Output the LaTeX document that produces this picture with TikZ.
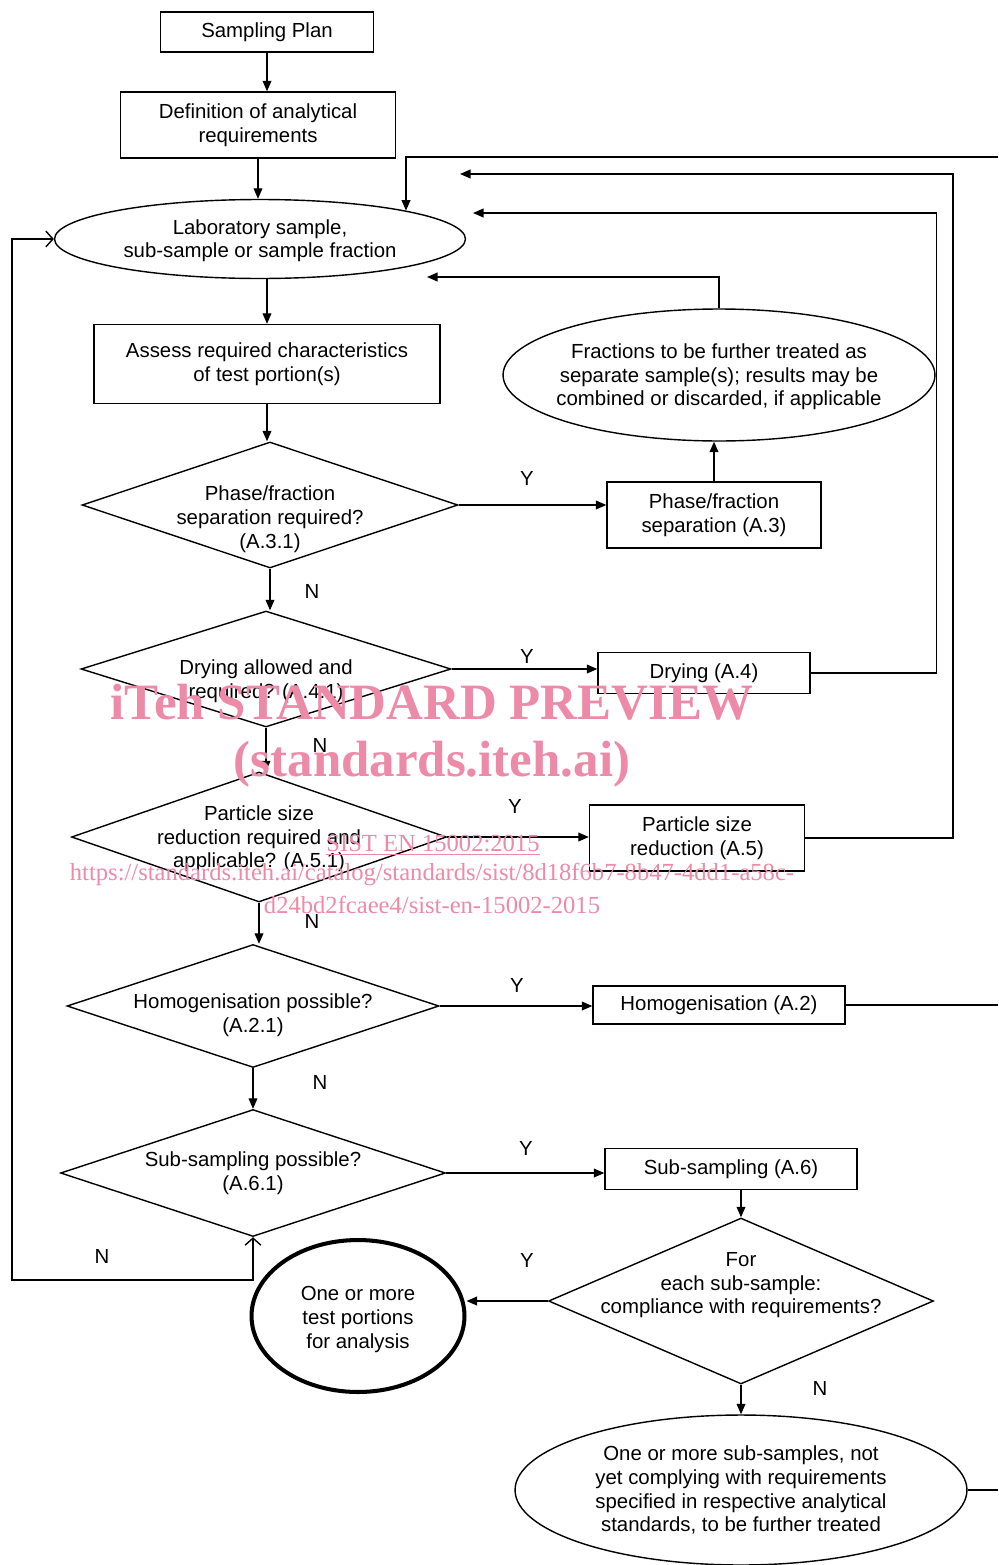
\documentclass[tikz,border=0pt]{standalone}
\usepackage{fontspec}
\setmainfont{Liberation Sans}
\newfontfamily\wmfont{Liberation Serif}
\usetikzlibrary{shapes.geometric,arrows.meta}
\definecolor{wmpink}{RGB}{236,138,168}

\begin{document}
\begin{tikzpicture}[x=0.02cm,y=-0.02cm,line width=0.8pt,
    font=\fontsize{11.6}{13.6}\selectfont,
    arr/.style={-{Triangle[length=6pt,width=5pt]}},
    barbs/.style={{Straight Barb[length=4pt,width=9pt]}-{Straight Barb[length=4pt,width=9pt]}},
    proc/.style 2 args={draw,rectangle,align=center,minimum width=#1cm,minimum height=#2cm},
    oval/.style 2 args={draw,ellipse,minimum width=#1cm,minimum height=#2cm},
    dec/.style 2 args={draw,diamond,minimum width=#1cm,minimum height=#2cm},
    qtext/.style={align=center},
    wm/.style={text=wmpink}]
\tikzstyle{every node}+=[inner sep=0pt]
\useasboundingbox (0,0) rectangle (998,1565);

\node[proc={4.26}{0.80}] (plan) at (267,32) {Sampling Plan};
\node[proc={5.50}{1.32}] (defn) at (258,125) {Definition of analytical\\requirements};
\node[oval={8.22}{1.58},label={[qtext,yshift=-1pt]center:Laboratory sample,\\sub-sample or sample fraction}] (lab) at (260,239) {};
\node[proc={6.92}{1.58}] (assess) at (267,364) {Assess required characteristics\\of test portion(s)};
\node[oval={8.64}{2.64},label={[qtext,yshift=-1pt]center:Fractions to be further treated as\\separate sample(s); results may be\\combined or discarded, if applicable}] (frac) at (719,375) {};

\node[dec={7.52}{2.52},label={[qtext,yshift=-8pt]center:Phase/fraction\\separation required?\\(A.3.1)}] (qphase) at (270,505) {};
\node[proc={4.28}{1.32}] (sep) at (714,515) {Phase/fraction\\separation (A.3)};
\node[dec={7.40}{2.32},label={[qtext,yshift=-7pt]center:Drying allowed and\\required? (A.4.1)}] (qdry) at (266,669) {};
\node[proc={4.24}{0.82}] (dry) at (704,673) {Drying (A.4)};
\node[dec={7.50}{2.60},label={[qtext,yshift=-1pt]center:Particle size\\reduction required and\\applicable? (A.5.1)}] (qsize) at (259,837) {};
\node[proc={4.30}{1.32}] (size) at (697,838) {Particle size\\reduction (A.5)};
\node[dec={7.44}{2.46},label={[qtext,yshift=-5pt]center:Homogenisation possible?\\(A.2.1)}] (qhom) at (253,1006) {};
\node[proc={5.04}{0.76}] (hom) at (719,1005) {Homogenisation (A.2)};
\node[dec={7.70}{2.54},label={[qtext]center:Sub-sampling possible?\\(A.6.1)}] (qsub) at (253,1173) {};
\node[proc={5.04}{0.82}] (sub) at (731,1169) {Sub-sampling (A.6)};
\node[dec={7.70}{3.32},label={[qtext,yshift=9pt]center:For\\each sub-sample:\\compliance with requirements?}] (qcomp) at (741,1301) {};
\node[oval={4.26}{3.04},line width=2.3pt,label={[qtext,yshift=-2pt]center:One or more\\test portions\\for analysis}] (result) at (358,1316) {};
\node[oval={9.04}{3.00},label={[qtext]center:One or more sub-samples, not\\yet complying with requirements\\specified in respective analytical\\standards, to be further treated}] (further) at (741,1490) {};

\node (y1) at (527,478) {Y};
\node (y2) at (527,656) {Y};
\node (y3) at (515,806) {Y};
\node (y4) at (517,985) {Y};
\node (y5) at (526,1148) {Y};
\node (y6) at (527,1260) {Y};
\node (n1) at (312,591) {N};
\node (n2) at (320,745) {N};
\node (n3) at (312,921) {N};
\node (n4) at (320,1082) {N};
\node (n5) at (102,1256) {N};
\node (n6) at (820,1388) {N};

\coordinate (in1) at (473,213);
\coordinate (in2) at (460,174);
\coordinate (in3) at (427,277);
\coordinate (edge) at (998,157);
\coordinate (loopbot) at (12,1280);

\draw[arr] (plan.south) -- (plan.south |- defn.north);
\draw[arr] (defn.south) -- (defn.south |- lab.north);
\draw[arr] (lab.south -| assess.north) -- (assess.north);
\draw[arr] (assess.south) -- (assess.south |- qphase.north);
\draw[arr] (qphase.south) -- (qphase.south |- qdry.north);
\draw[arr] (qdry.south) -- (qdry.south |- qsize.north);
\draw[arr] (qsize.south) -- (qsize.south |- qhom.north);
\draw[arr] (qhom.south) -- (qsub.north);
\draw[arr] (qphase.east) -- (qphase.east -| sep.west);
\draw[arr] (sep.north) -- (sep.north |- frac.south);
\draw[arr] (qdry.east) -- (qdry.east -| dry.west);
\draw[arr] (qsize.east) -- (qsize.east -| size.west);
\draw[arr] (qhom.east) -- (qhom.east -| hom.west);
\draw[arr] (qsub.east) -- (qsub.east -| sub.west);
\draw[arr] (sub.south -| qcomp.north) -- (qcomp.north);
\draw[arr] (qcomp.west) -- (result.east |- qcomp.west);
\draw[arr] (qcomp.south) -- (further.north);

\draw[arr] (frac.north) |- (in3);
\draw[arr] (dry.east) -- ++(126,0) |- (in1);
\draw[arr] (size.east) -- ++(148,0) |- (in2);
\draw[arr] (edge) -| (lab.11);
\draw (hom.east) -- (hom.east -| edge);
\draw (further.east) -- (further.east -| edge);
\draw[barbs] (qsub.south) |- (loopbot) |- (lab.west);

\node[wm,font=\wmfont\bfseries\fontsize{29}{29}\selectfont] (wm1) at (432,702) {iTeh STANDARD PREVIEW};
\node[wm,font=\wmfont\bfseries\fontsize{29}{29}\selectfont] (wm2) at (432,764) {(standards.iteh.ai)};
\node[wm,font=\wmfont\fontsize{14}{14}\selectfont] (wm3) at (433,845) {\underline{SIST EN 15002:2015}};
\node[wm,font=\wmfont\fontsize{14}{14}\selectfont] (wm4) at (432,874) {https://standards.iteh.ai/catalog/standards/sist/8d18f6b7-8b47-4dd1-a58c-};
\node[wm,font=\wmfont\fontsize{14}{14}\selectfont] (wm5) at (432,905) {d24bd2fcaee4/sist-en-15002-2015};
\end{tikzpicture}
\end{document}
